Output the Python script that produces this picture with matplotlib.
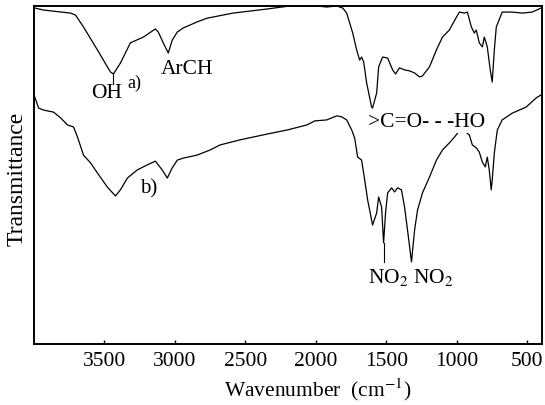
import matplotlib
matplotlib.use("Agg")
import matplotlib.pyplot as plt

plt.rcParams["font.family"] = ["Liberation Serif", "DejaVu Serif"]
plt.rcParams["mathtext.fontset"] = "stix"

# spectrum a) : wavenumber (cm-1) and transmittance (%)
wn_a = [3995, 3932, 3741, 3705, 3649, 3550, 3458, 3436, 3387, 3316, 3224, 3139,
        3118, 3083, 3047, 3019, 2983, 2941, 2891, 2842, 2771, 2587, 2347, 2205,
        1993, 1922, 1851, 1809, 1781, 1738, 1710, 1689, 1675, 1660, 1639, 1604,
        1597, 1568, 1554, 1526, 1490, 1455, 1434, 1406, 1370, 1335, 1299, 1264,
        1243, 1193, 1144, 1101, 1052, 1002, 981, 946, 924, 896, 875, 861, 840,
        818, 804, 783, 762, 748, 733, 719, 677, 606, 535, 465, 401]
t_a = [99.4, 98.8, 97.9, 97.3, 93.8, 87.0, 80.5, 79.9, 83.1, 89.1, 90.8, 93.2,
       92.3, 89.1, 86.1, 89.9, 92.3, 93.5, 94.4, 95.3, 96.4, 97.9, 99.1, 99.9,
       100.0, 99.7, 100.0, 99.4, 97.9, 92.0, 87.0, 84.0, 84.9, 83.4, 77.2, 70.1,
       69.8, 74.3, 82.0, 84.9, 84.6, 81.1, 79.9, 81.7, 81.1, 80.8, 80.2, 79.0,
       79.3, 82.0, 87.0, 90.8, 92.9, 96.7, 98.2, 97.9, 98.2, 93.8, 92.0, 92.9,
       89.1, 87.9, 90.8, 87.9, 81.1, 77.5, 87.0, 93.8, 98.2, 98.2, 97.9, 98.2, 99.4]

# spectrum b)
wn_b = [3995, 3967, 3932, 3861, 3811, 3762, 3719, 3691, 3649, 3599, 3550, 3479,
        3422, 3387, 3337, 3267, 3196, 3139, 3090, 3054, 3019, 2983, 2941, 2906,
        2842, 2750, 2679, 2538, 2347, 2205, 2064, 2007, 1922, 1887, 1851, 1816,
        1781, 1745, 1724, 1703, 1675, 1653, 1632, 1597, 1568, 1554, 1533, 1519,
        1505, 1490, 1462, 1441, 1420, 1392, 1370, 1349, 1321, 1299, 1278, 1243,
        1193, 1144, 1101, 1052, 1016, 967, 910, 889, 861, 840, 818, 797, 783,
        769, 755, 748, 733, 712, 677, 606, 507, 436, 401]
t_b = [73.1, 69.8, 69.2, 68.6, 66.9, 64.8, 64.2, 61.2, 55.9, 53.6, 50.6, 46.4,
       43.8, 45.6, 49.1, 51.5, 53.0, 54.1, 51.5, 49.1, 52.1, 54.4, 55.0, 55.3,
       55.9, 57.4, 58.9, 60.4, 62.1, 63.3, 64.8, 66.0, 66.3, 66.9, 67.5, 67.2,
       66.3, 63.3, 60.9, 55.3, 54.4, 48.5, 42.6, 35.2, 38.8, 43.5, 40.5, 29.9,
       38.8, 44.7, 46.2, 45.0, 46.2, 45.6, 40.5, 33.7, 24.3, 33.7, 39.6, 44.7,
       49.4, 54.4, 57.4, 59.5, 61.2, 63.9, 61.8, 58.9, 58.0, 56.8, 53.8, 52.4,
       55.3, 51.5, 45.6, 48.5, 56.5, 63.3, 66.3, 68.3, 70.1, 72.8, 73.7]

xticks = [3500, 3000, 2500, 2000, 1500, 1000, 500]

fig = plt.figure(figsize=(5.45, 4.05), dpi=100)
ax = fig.add_axes([0.0624, 0.1506, 0.932, 0.8346])

ax.plot(wn_a, t_a, color="black", lw=0.9)
ax.plot(wn_b, t_b, color="black", lw=0.9)

ax.set_xlim(4000, 395)
ax.set_ylim(0, 100)
ax.set_xticks(xticks)
ax.set_yticks([])
ax.tick_params(axis="x", direction="in", length=3, width=1, pad=6, labelsize=15.5)
for s in ax.spines.values():
    s.set_linewidth(1.4)

ax.text(0.559, -0.136, "Wavenumber  (cm$^{-1}$)", fontsize=15.5,
        ha="center", va="center", transform=ax.transAxes)
ax.text(-0.033, 0.49, "Transmittance", fontsize=17, rotation=90,
        ha="center", va="center", transform=ax.transAxes)

# peak labels
ax.plot([3436, 3436], [79.9, 77.0], color="black", lw=0.8)
ax.text(3486, 74.0, "OH", fontsize=15.5, ha="center", va="center")
ax.text(3288, 77.0, "a)", fontsize=13, ha="center", va="center")
ax.text(2913, 81.1, "ArCH", fontsize=15.5, ha="center", va="center")
ax.text(3189, 45.9, "b)", fontsize=15, ha="center", va="center")
ax.text(1215, 65.4, ">C=O- - -HO", fontsize=15.5, ha="center", va="center",
        bbox=dict(facecolor="white", edgecolor="none", pad=0.5))
ax.plot([1519, 1519], [29.9, 24.3], color="black", lw=0.8)
ax.text(1328, 19.8, "NO$_2$ NO$_2$", fontsize=15.5, ha="center", va="center")

fig.savefig("out.png", dpi=100)
